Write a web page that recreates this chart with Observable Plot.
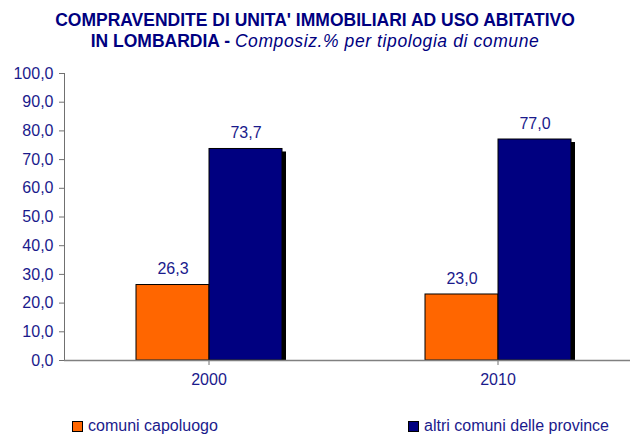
<!DOCTYPE html>
<html>
<head>
<meta charset="utf-8">
<script src="https://cdn.jsdelivr.net/npm/d3@7"></script>
<script src="https://cdn.jsdelivr.net/npm/@observablehq/plot@0.6"></script>
<style>
  html, body { margin: 0; padding: 0; background: #fff; }
  body { width: 630px; height: 434px; position: relative; overflow: hidden; font-family: "Liberation Sans", Arial, sans-serif; color: #000080; }
  #title { position: absolute; left: 0; top: 10px; width: 630px; text-align: center; font-weight: bold; font-size: 17.5px; line-height: 21px; color: #000080; }
  #title i { font-weight: normal; font-style: italic; letter-spacing: 0.6px; }
  #chart { position: absolute; left: 0; top: 52px; }
  #chart svg text { fill: #1a1a8c; }
  .leg { position: absolute; top: 416px; font-size: 16px; line-height: 20px; white-space: nowrap; color: #1a1a8c; }
  .sw { display: inline-block; width: 9px; height: 9px; border: 1px solid #000; margin-right: 5px; vertical-align: -1px; }
</style>
</head>
<body>
<div id="title">COMPRAVENDITE DI UNITA' IMMOBILIARI AD USO ABITATIVO<br>IN LOMBARDIA - <i>Composiz.% per tipologia di comune</i></div>
<div id="chart"></div>
<div id="legend"></div>
<script>
const years = ["2000", "2010"];
const series = ["comuni capoluogo", "altri comuni delle province"];
const capoluogo = [26.3, 23.0];
const altriComuni = [73.7, 77.0];
const colors = ["#ff6600", "#000080"];
const yTicks = [0, 10, 20, 30, 40, 50, 60, 70, 80, 90, 100];

const fmt = d => d.toFixed(1).replace(".", ",");

const data = years.flatMap((yr, i) => [
  {year: yr, serie: series[0], value: capoluogo[i]},
  {year: yr, serie: series[1], value: altriComuni[i]}
]);

const chart = Plot.plot({
  width: 630,
  height: 350,
  marginLeft: 63,
  marginRight: -12,
  marginTop: 21,
  marginBottom: 42,
  style: {fontFamily: "Liberation Sans, Arial, sans-serif", fontSize: "16px", color: "#707070", background: "#fff"},
  fx: {domain: years, padding: 0, label: null, tickSize: 5, tickPadding: 8},
  x: {domain: series, paddingInner: 0, paddingOuter: 0.956, axis: null},
  y: {domain: [0, 100], ticks: yTicks, tickFormat: fmt, tickSize: 5, tickPadding: 6, label: null, line: true},
  color: {domain: series, range: colors},
  marks: [
    Plot.barY(data, {fx: "year", x: "serie", y: "value", fill: "#000", dx: 4, dy: 3, insetBottom: 3}),
    Plot.barY(data, {fx: "year", x: "serie", y: "value", fill: "serie", stroke: "#000", strokeWidth: 1}),
    Plot.ruleY([0], {stroke: "#808080", strokeWidth: 1.5}),
    Plot.text(data, {fx: "year", x: "serie", y: "value", text: d => fmt(d.value), dy: -16, lineAnchor: "middle", fill: "#1a1a8c", fontSize: 16})
  ]
});
document.getElementById("chart").appendChild(chart);

const legend = document.getElementById("legend");
const legLeft = [72, 408];
series.forEach((s, i) => {
  const div = document.createElement("div");
  div.className = "leg";
  div.style.left = legLeft[i] + "px";
  const sw = document.createElement("span");
  sw.className = "sw";
  sw.style.background = colors[i];
  div.appendChild(sw);
  div.appendChild(document.createTextNode(s));
  legend.appendChild(div);
});
</script>
</body>
</html>
